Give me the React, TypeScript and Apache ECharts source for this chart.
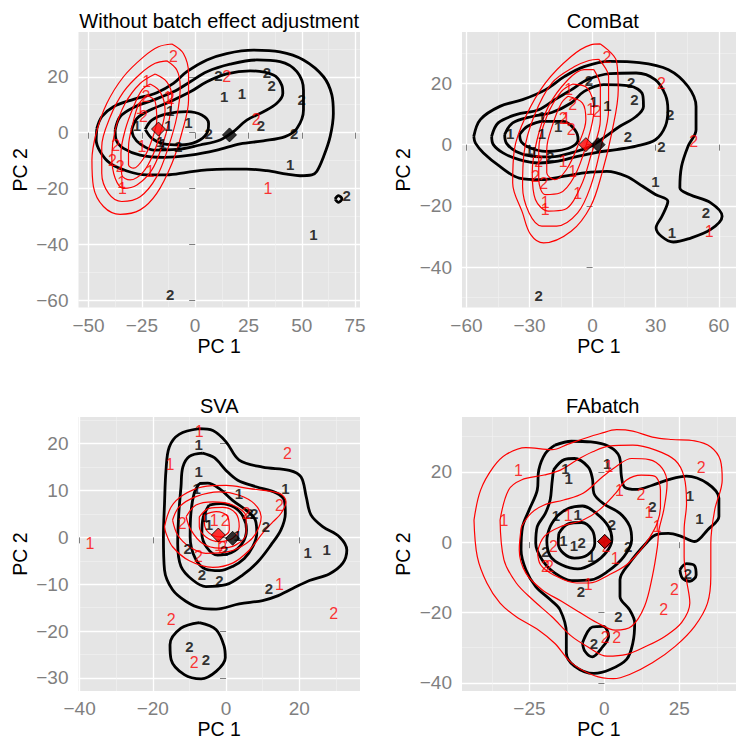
import React, { useEffect, useRef } from "react";
import * as echarts from "echarts";

type P = [number, number, string];
type XY = [number, number];

const FONT = '"Liberation Sans", Arial, Helvetica, sans-serif';

// ---------- Panel 1: Without batch effect adjustment ----------
const p1Black: P[] = [
  [-11.7, -57.7, "2"], [55.5, -36.3, "1"], [71.1, -22.6, "2"], [44.5, -11.2, "1"],
  [46.4, -0.2, "2"], [50.0, 11.9, "2"], [33.6, 21.4, "2"], [35.9, 17.0, "2"],
  [10.9, 20.6, "2"], [13.6, 12.9, "1"], [21.9, 14.0, "1"], [30.8, 2.7, "2"],
  [6.3, -0.2, "2"], [-3.1, 3.6, "1"], [-12.5, 2.4, "1"], [-16.4, -3.2, "1"],
  [-15.2, -3.8, "1"], [-7.8, -5.0, "2"], [-27.3, 2.7, "1"], [-11.7, 8.1, "1"],
];
const p1Red: P[] = [
  [-10.2, 27.1, "2"], [14.8, 20.2, "2"], [28.6, 4.8, "2"], [34.1, -19.9, "1"],
  [-22.7, 18.2, "1"], [-23.1, 12.9, "2"], [-25.8, 8.7, "1"], [-24.2, 5.7, "2"],
  [-12.8, 12.6, "1"], [-11.7, 12.3, "2"], [-37.2, -4.6, "2"], [-38.8, -9.8, "2"],
  [-35.2, -12.1, "2"], [-34.4, -17.9, "1"], [-34.1, -19.9, "1"], [-25.0, -5.0, "1"],
  [-21.1, -13.9, "1"],
];
const p1BlackMean: XY = [16.1, -0.8];
const p1RedMean: XY = [-17.2, 1.3];
const p1BlackContours: XY[][] = [
  [[-46.1, 1.5], [-43.8, 5.7], [-38.3, 9.3], [-28.9, 11.9], [-18.0, 14.3], [-10.2, 17.6], [-3.9, 21.8], [5.5, 26.0], [14.8, 28.3], [27.3, 29.5], [39.8, 28.9], [50.8, 26.0], [60.2, 20.0], [64.1, 13.5], [64.8, 6.9], [63.3, -1.4], [60.2, -8.6], [57.0, -13.9], [54.7, -15.1], [49.2, -15.4], [43.0, -14.8], [33.6, -13.6], [24.2, -13.0], [14.8, -13.0], [5.5, -13.3], [-3.9, -14.2], [-13.3, -15.1], [-22.7, -15.1], [-32.0, -13.7], [-39.8, -11.0], [-44.5, -6.8], [-46.4, -2.6]],
  [[-37.5, 1.0], [-35.2, 5.7], [-28.9, 9.0], [-19.5, 11.7], [-10.2, 14.6], [-2.3, 18.2], [5.5, 21.8], [16.4, 24.5], [28.9, 26.0], [39.8, 25.4], [47.7, 21.8], [50.8, 15.2], [50.8, 8.1], [47.7, 1.5], [42.2, -1.4], [32.0, -2.9], [21.1, -4.0], [10.2, -6.2], [-2.3, -8.0], [-14.8, -8.8], [-25.8, -8.0], [-33.6, -5.6], [-37.0, -2.6]],
  [[-29.7, 1.2], [-27.3, 5.1], [-21.1, 8.1], [-11.7, 11.1], [-2.3, 14.6], [5.5, 18.2], [14.8, 21.0], [25.8, 22.1], [36.7, 20.6], [40.6, 17.0], [41.1, 14.0], [38.3, 10.5], [32.0, 7.5], [24.2, 4.5], [18.0, 0.4], [11.7, -2.6], [2.3, -4.4], [-8.6, -6.0], [-19.5, -6.2], [-25.8, -4.0], [-28.9, -1.4]],
  [[-23.4, 1.2], [-20.3, 4.5], [-13.3, 6.7], [-3.9, 7.5], [3.1, 6.3], [6.3, 3.3], [5.5, -0.2], [0.8, -3.2], [-7.0, -4.4], [-14.8, -4.0], [-20.3, -2.0]],
  [[65.6, -23.7], [67.2, -22.5], [68.8, -23.7], [67.2, -24.9]],
];
const p1RedContours: XY[][] = [
  [[-10.9, 31.7], [-5.5, 28.3], [-3.1, 21.2], [-3.1, 11.7], [-6.3, -0.2], [-10.9, -11.0], [-18.0, -21.7], [-25.8, -27.6], [-35.2, -29.2], [-43.0, -26.4], [-47.7, -19.3], [-48.4, -9.8], [-46.4, -0.2], [-41.4, 10.5], [-33.6, 20.0], [-24.2, 27.1], [-17.2, 30.7]],
  [[-13.3, 25.7], [-8.6, 22.4], [-7.0, 16.4], [-8.6, 5.7], [-12.5, -5.0], [-18.0, -15.7], [-25.8, -22.9], [-34.4, -24.6], [-40.6, -21.7], [-43.8, -14.5], [-43.8, -5.0], [-39.8, 5.7], [-33.6, 14.6], [-25.8, 21.0], [-18.75, 24.8]],
  [[-18.75, 21.0], [-13.3, 18.2], [-10.9, 12.9], [-12.5, 3.3], [-15.6, -5.0], [-20.3, -13.3], [-27.3, -18.7], [-33.6, -19.9], [-37.5, -16.3], [-39.1, -8.6], [-37.5, 1.0], [-32.8, 10.5], [-25.8, 17.6]],
  [[-21.1, 17.4], [-16.4, 14.6], [-14.1, 8.1], [-16.4, -0.2], [-19.5, -7.4], [-24.2, -13.9], [-30.5, -16.9], [-34.4, -15.1], [-34.8, -7.4], [-32.8, 1.0], [-28.9, 9.3], [-25.0, 15.2]],
  [[-22.7, 13.5], [-18.75, 11.1], [-18.0, 4.5], [-20.3, -2.6], [-24.2, -9.2], [-28.9, -12.7], [-31.25, -11.5], [-31.25, -5.0], [-29.2, 3.3], [-26.6, 9.9]],
];
const p1XTicks = [-50, -25, 0, 25, 50, 75];
const p1YTicks = [-60, -40, -20, 0, 20];

// ---------- Panel 2: ComBat ----------
const p2Black: P[] = [
  [-25.6, -49.2, "2"], [37.7, -28.8, "1"], [53.9, -22.3, "2"], [29.9, -12.0, "1"],
  [32.7, -0.5, "2"], [16.8, 2.7, "2"], [36.9, 9.8, "2"], [19.9, 14.9, "2"],
  [18.4, 20.3, "2"], [-1.7, 20.9, "2"], [0.6, 14.1, "1"], [7.1, 12.7, "1"],
  [-24.1, 3.8, "1"], [-39.2, 3.6, "1"], [-24.1, 9.2, "1"], [-30.2, -1.6, "1"],
  [-27.9, -2.2, "1"], [-20.2, -3.8, "2"], [-16.4, 6.0, "1"],
];
const p2Red: P[] = [
  [6.8, 28.6, "2"], [32.7, 20.1, "2"], [48.1, 1.1, "2"], [55.4, -28.3, "1"],
  [-11.3, 17.9, "1"], [-9.4, 13.0, "2"], [-0.9, 11.4, "1"], [2.2, 10.9, "2"],
  [-14.0, 8.7, "2"], [-12.5, 8.7, "1"], [-10.2, 4.9, "2"], [-25.6, -5.4, "2"],
  [-27.2, -10.3, "2"], [-23.3, -12.7, "2"], [-22.5, -19.0, "1"], [-22.5, -21.2, "1"],
  [-14.0, -5.4, "1"], [-9.4, -8.7, "1"], [-7.1, -15.8, "1"],
];
const p2BlackMean: XY = [2.6, 0];
const p2RedMean: XY = [-3.2, 0];
const p2BlackContours: XY[][] = [
  [[-56.5, 2.7], [-53.4, 8.2], [-44.1, 12.5], [-33.3, 14.7], [-22.5, 17.9], [-13.3, 22.3], [-4.0, 25.5], [8.3, 27.2], [22.2, 26.8], [36.1, 24.5], [45.4, 19.0], [49.2, 12.5], [49.2, 4.9], [45.4, -0.5], [42.3, -7.1], [41.5, -14.1], [46.1, -16.3], [56.2, -19.0], [61.6, -23.4], [56.2, -27.7], [45.4, -30.8], [38.4, -31.8], [33.0, -30.1], [30.2, -27.2], [33.0, -23.4], [35.8, -18.5], [29.9, -16.3], [23.8, -13.6], [16.0, -10.3], [6.8, -8.7], [-4.0, -9.2], [-13.3, -10.3], [-24.1, -11.4], [-34.9, -10.9], [-44.1, -7.1], [-51.9, -2.7], [-55.7, 0.5]],
  [[-48.0, 2.7], [-44.9, 7.1], [-36.4, 9.8], [-25.6, 11.4], [-17.9, 14.7], [-10.2, 17.9], [-2.5, 21.2], [8.3, 23.2], [20.7, 23.4], [29.9, 21.2], [34.6, 16.3], [35.8, 11.4], [34.6, 6.0], [29.9, 1.6], [20.7, -0.5], [11.4, -1.6], [2.2, -2.5], [-7.1, -3.8], [-16.4, -5.4], [-25.6, -6.0], [-34.9, -4.9], [-42.6, -2.7], [-47.2, 0]],
  [[-41.8, 3.3], [-38.0, 7.1], [-28.7, 9.2], [-19.4, 10.5], [-10.2, 13.6], [-4.0, 17.4], [5.2, 19.6], [17.6, 19.2], [23.8, 16.3], [24.2, 12.5], [20.7, 9.2], [13.0, 6.0], [5.2, 2.2], [-0.9, -0.5], [-10.2, -2.7], [-19.4, -4.0], [-28.7, -3.8], [-36.4, -2.2], [-41.0, 0.5]],
  [[-34.7, 3.3], [-30.9, 6.0], [-23.1, 7.6], [-13.9, 7.6], [-8.5, 4.9], [-6.9, 1.6], [-9.3, -0.5], [-14.8, -1.8], [-22.5, -2.2], [-29.5, -1.1], [-33.8, 0.8]],
];
const p2RedContours: XY[][] = [
  [[3.7, 32.9], [11.4, 27.2], [12.2, 17.9], [9.1, 3.8], [4.5, -9.2], [-0.9, -20.1], [-10.2, -28.3], [-23.3, -32.1], [-29.5, -29.3], [-33.3, -22.3], [-38.0, -12.5], [-37.2, -1.6], [-31.8, 9.2], [-22.5, 20.1], [-10.2, 28.8], [-0.9, 32.6]],
  [[2.9, 27.9], [7.6, 22.3], [7.6, 11.4], [3.7, -1.6], [-0.9, -13.6], [-7.1, -22.3], [-17.1, -26.6], [-24.1, -26.6], [-30.2, -22.3], [-33.3, -13.6], [-32.6, -2.7], [-27.9, 9.2], [-19.4, 20.1], [-8.6, 25.5], [-1.7, 27.5]],
  [[0.6, 24.5], [3.7, 19.0], [3.7, 8.2], [-0.9, -3.8], [-5.6, -13.6], [-13.3, -21.2], [-21.0, -21.7], [-27.2, -17.9], [-28.7, -9.2], [-26.4, 1.6], [-21.0, 12.5], [-11.7, 21.2], [-4.0, 24.5]],
  [[-9.4, 19.8], [-2.5, 18.5], [0.6, 11.4], [-3.2, -0.5], [-8.6, -10.3], [-15.6, -15.8], [-22.5, -16.3], [-25.6, -11.4], [-25.6, -1.6], [-21.8, 9.2], [-14.8, 17.4]],
  [[-11.7, 15.8], [-4.8, 13.6], [-3.2, 8.2], [-7.1, -0.5], [-12.5, -8.2], [-17.9, -11.4], [-21.8, -9.2], [-21.8, -1.6], [-18.7, 7.1], [-14.8, 13.6]],
];
const p2XTicks = [-60, -30, 0, 30, 60];
const p2YTicks = [-40, -20, 0, 20];

// ---------- Panel 3: SVA ----------
const p3Black: P[] = [
  [-7.5, 19.9, "1"], [-7.5, 14.1, "1"], [-8.0, 10.4, "1"], [3.5, 9.4, "1"],
  [16.2, 10.4, "1"], [22.3, -3.3, "1"], [27.5, -2.6, "1"], [6.4, 5.1, "2"],
  [7.7, 5.1, "2"], [10.9, 2.3, "2"], [-10.5, -2.3, "2"], [-6.6, -8.0, "2"],
  [-1.8, -9.3, "2"], [11.7, -11.0, "2"], [-10.0, -23.3, "2"], [-5.5, -26.1, "2"],
  [-5.6, 4.4, "1"], [-4.7, 2.8, "1"], [3.2, 0.5, "1"], [-0.5, -2.7, "2"],
];
const p3Red: P[] = [
  [-37.2, -1.3, "1"], [-7.3, 22.6, "1"], [-15.3, 15.5, "1"], [16.8, 17.9, "2"],
  [14.6, 6.9, "2"], [5.5, 5.1, "2"], [-12.0, 3.0, "2"], [-3.2, 3.7, "1"],
  [-0.2, 3.5, "2"], [-2.0, -1.8, "1"], [-0.9, -2.1, "2"], [-7.5, -4.1, "2"],
  [14.6, -10.1, "1"], [-15.0, -17.6, "2"], [29.4, -16.2, "2"], [-8.7, -26.8, "2"],
];
const p3BlackMean: XY = [1.8, -0.2];
const p3RedMean: XY = [-2.1, 0.5];
const p3BlackContours: XY[][] = [
  [[-7.3, 23.2], [-12.8, 22.0], [-15.5, 19.3], [-16.4, 14.3], [-16.8, 7.2], [-17.1, 0.1], [-16.8, -7.0], [-14.6, -11.2], [-10.9, -13.7], [-6.8, -15.1], [-2.7, -15.3], [3.6, -14.2], [10.0, -13.5], [13.7, -12.6], [18.2, -10.9], [22.8, -9.2], [28.2, -7.8], [31.9, -5.5], [33.0, -2.7], [31.0, 0.1], [26.4, 2.3], [23.2, 4.8], [21.9, 8.7], [20.5, 12.9], [17.3, 14.3], [10.0, 15.0], [3.6, 16.5], [0, 20.4], [-3.6, 22.8]],
  [[-6.4, 18.0], [-10.0, 17.3], [-11.8, 15.0], [-12.3, 10.8], [-12.9, 5.1], [-13.2, -1.3], [-12.3, -6.2], [-9.1, -9.1], [-5.5, -10.5], [0, -10.1], [4.6, -8.0], [8.7, -5.2], [12.3, -1.6], [15.0, 1.6], [16.2, 5.1], [15.9, 7.9], [13.7, 9.5], [8.2, 10.8], [3.2, 12.2], [0, 14.3], [-3.2, 17.0]],
  [[-7.3, 11.5], [-5.0, 11.6], [-1.8, 10.4], [1.8, 7.9], [5.5, 5.8], [8.0, 3.7], [8.4, 0.9], [7.3, -2.0], [5.0, -4.5], [1.8, -6.2], [-1.8, -7.1], [-5.5, -6.8], [-8.4, -4.5], [-9.8, 0.1], [-9.6, 5.1], [-8.7, 9.4]],
  [[-4.6, 6.9], [-1.4, 7.2], [2.3, 6.4], [4.7, 4.4], [5.6, 1.6], [4.4, -1.3], [1.4, -3.3], [-2.3, -3.8], [-5.3, -2.1], [-6.6, 0.9], [-6.2, 4.4]],
  [[-7.3, -18.2], [-2.7, -19.7], [-0.5, -23.3], [-0.2, -25.7], [-2.7, -28.6], [-6.8, -30.2], [-11.4, -29.3], [-15.0, -26.1], [-15.3, -22.9], [-12.3, -19.4]],
];
const p3RedContours: XY[][] = [
  [[-16.8, 2.3], [-15.0, 6.5], [-11.8, 9.0], [-6.4, 10.8], [0, 11.1], [6.4, 10.4], [14.6, 9.4], [16.4, 7.6], [15.0, 5.1], [12.8, 3.3], [10.0, 0.9], [6.4, -2.7], [1.8, -5.5], [-3.6, -6.4], [-10.0, -5.0], [-14.6, -2.0], [-16.4, 0.9]],
  [[-14.6, 3.7], [-12.8, 6.5], [-8.2, 8.7], [-1.8, 9.7], [3.6, 9.0], [7.7, 7.2], [9.6, 4.4], [8.2, 0.9], [5.5, -1.3], [0.9, -3.0], [-5.5, -3.4], [-10.0, -2.0], [-13.2, 0.5]],
  [[-10.9, 4.4], [-8.2, 6.9], [-3.6, 7.6], [1.8, 6.9], [5.5, 4.4], [5.5, 0.9], [2.7, -1.6], [-1.8, -2.3], [-6.4, -1.3], [-9.6, 1.6]],
  [[-7.3, 4.4], [-4.6, 6.2], [-0.9, 6.4], [2.7, 5.1], [3.6, 2.3], [1.8, -0.2], [-1.8, -0.9], [-5.5, 0.1], [-7.3, 2.3]],
  [[-5.9, 4.8], [-2.7, 5.5], [0.5, 4.4], [0.9, 1.6], [-1.4, 0.1], [-4.6, 0.9], [-5.9, 3.0]],
];
const p3XTicks = [-40, -20, 0, 20];
const p3YTicks = [-30, -20, -10, 0, 10, 20];

// ---------- Panel 4: FAbatch ----------
const p4Black: P[] = [
  [-13.0, 21.0, "1"], [-11.9, 18.1, "1"], [0.9, 22.4, "1"], [28.5, 13.4, "1"],
  [31.7, 6.8, "1"], [16.0, 10.1, "2"], [2.5, 4.9, "2"], [7.9, -1.2, "2"],
  [-13.7, 0.5, "1"], [-10.2, -0.8, "1"], [-7.6, -0.1, "2"], [-16.2, 7.7, "1"],
  [-8.9, 8.0, "1"], [-4.3, -4.1, "1"], [-19.7, -2.6, "2"], [-7.8, -14.0, "2"],
  [4.7, -21.2, "2"], [-3.5, -28.8, "2"], [27.9, -8.8, "2"],
];
const p4Red: P[] = [
  [-28.7, 20.5, "1"], [-33.5, 6.1, "1"], [32.3, 21.2, "2"], [1.5, 21.5, "1"],
  [5.0, 14.6, "1"], [12.2, 13.7, "2"], [14.9, 8.4, "1"], [17.6, 4.4, "1"],
  [-12.1, 7.7, "1"], [-17.0, -1.2, "2"], [-19.7, -6.9, "2"], [-18.3, -6.9, "2"],
  [3.6, -4.5, "1"], [0.6, -1.2, "2"], [-5.4, -12.1, "1"], [23.4, -13.5, "2"],
  [19.8, -19.0, "2"], [0.3, -27.2, "2"], [4.1, -27.0, "2"],
];
const p4BlackMean: XY = [0.1, 0.2];
const p4RedMean: XY = [0.1, 0.2];
const p4BlackContours: XY[][] = [
  [[-16.5, 27.6], [-11.0, 28.7], [-4.5, 28.5], [1.4, 27.3], [5.0, 24.3], [5.7, 18.6], [6.8, 15.6], [10.6, 15.0], [16.0, 16.2], [21.4, 17.8], [27.4, 18.8], [34.4, 16.7], [38.2, 12.5], [38.2, 7.3], [34.4, 3.5], [30.1, 0.2], [25.8, 1.6], [21.4, 2.5], [17.1, 2.1], [13.9, -0.3], [8.4, -5.9], [5.2, -10.7], [5.2, -15.4], [8.4, -19.2], [10.1, -22.9], [9.5, -28.6], [7.4, -33.3], [1.9, -36.2], [-3.5, -37.3], [-10.0, -35.2], [-12.7, -31.4], [-12.7, -25.8], [-14.8, -19.2], [-18.1, -16.3], [-22.9, -12.6], [-26.2, -7.8], [-27.8, -2.2], [-27.3, 4.4], [-25.1, 9.2], [-22.4, 14.8], [-21.9, 20.5], [-19.7, 25.2]],
  [[-17.0, 20.5], [-13.4, 23.5], [-10.0, 23.8], [-5.4, 21.4], [-4.0, 18.1], [-3.5, 13.9], [-0.2, 10.9], [5.2, 8.2], [8.4, 4.6], [9.1, 0.7], [6.5, -4.1], [1.1, -8.3], [-4.5, -10.7], [-11.0, -10.9], [-16.5, -8.8], [-20.8, -5.0], [-22.9, -0.3], [-22.4, 4.4], [-19.7, 8.2], [-18.1, 12.0], [-17.5, 16.7]],
  [[-15.9, 7.3], [-12.1, 9.6], [-7.3, 10.3], [-2.4, 8.0], [1.4, 4.4], [2.5, 0.8], [0.6, -2.9], [-3.5, -5.9], [-8.9, -7.6], [-14.3, -6.4], [-18.1, -3.9], [-19.2, 0.5], [-18.1, 4.4]],
  [[-15.2, 2.5], [-12.1, 5.2], [-7.6, 5.6], [-4.0, 3.3], [-3.2, -0.3], [-5.6, -3.6], [-10.0, -4.5], [-13.7, -3.1], [-15.4, -0.3]],
  [[25.2, -7.8], [27.4, -6.1], [30.1, -6.7], [30.6, -9.3], [28.5, -11.1], [26.0, -10.2]],
  [[-7.3, -28.6], [-4.0, -24.1], [-0.4, -23.9], [1.4, -26.7], [-1.1, -30.3], [-4.0, -32.6], [-6.5, -31.0]],
];
const p4RedContours: XY[][] = [
  [[-43.5, 6.3], [-41.3, 14.8], [-37.0, 21.4], [-32.7, 25.0], [-26.2, 26.9], [-17.5, 26.3], [-12.1, 27.9], [-6.7, 29.5], [-1.3, 30.9], [4.1, 32.0], [9.5, 31.6], [16.0, 29.9], [22.5, 29.2], [30.1, 28.8], [35.5, 27.1], [38.7, 23.3], [39.3, 17.7], [36.8, 9.2], [35.5, -0.3], [35.5, -9.7], [34.4, -17.3], [30.1, -23.9], [23.6, -29.6], [16.0, -34.3], [8.4, -37.6], [3.0, -38.8], [-3.5, -37.9], [-11.0, -34.3], [-16.5, -28.8], [-21.9, -25.0], [-29.4, -21.2], [-34.8, -17.3], [-39.2, -11.6], [-42.4, -4.1]],
  [[-34.8, 6.3], [-32.0, 14.8], [-27.7, 17.7], [-20.1, 19.1], [-14.7, 20.5], [-9.3, 23.3], [-3.9, 25.7], [1.5, 27.3], [9.5, 27.6], [17.1, 26.2], [23.6, 23.3], [26.6, 18.6], [27.4, 11.0], [26.6, 3.5], [26.6, -4.1], [27.4, -10.7], [28.5, -17.3], [25.8, -22.8], [20.3, -26.7], [13.9, -29.6], [7.4, -31.9], [0.9, -32.4], [-5.6, -29.7], [-11.0, -26.7], [-17.5, -21.2], [-24.0, -16.3], [-29.4, -11.6], [-33.5, -5.0]],
  [[-27.7, 4.4], [-24.5, 8.2], [-20.1, 10.6], [-13.6, 12.0], [-7.1, 13.9], [-0.6, 18.6], [3.7, 21.4], [9.1, 23.8], [14.9, 23.5], [19.3, 21.0], [20.9, 16.7], [19.8, 9.2], [18.2, 3.5], [17.7, -1.2], [16.0, -9.7], [13.4, -18.2], [9.1, -23.9], [3.7, -25.0], [-2.4, -22.9], [-8.9, -19.6], [-14.3, -16.8], [-20.8, -13.5], [-26.2, -8.8], [-28.4, -2.2]],
  [[-22.3, -2.6], [-20.1, 1.6], [-14.7, 4.4], [-7.1, 6.3], [-1.7, 9.2], [3.7, 13.9], [7.4, 17.7], [12.3, 19.1], [16.7, 18.8], [18.7, 14.8], [18.7, 10.1], [17.6, 5.4], [14.9, 1.1], [11.7, -2.6], [7.4, -6.4], [1.5, -9.3], [-5.0, -11.6], [-9.3, -11.6], [-16.9, -9.3], [-21.3, -6.4]],
];
const p4XTicks = [-25, 0, 25];
const p4YTicks = [-40, -20, 0, 20];

const titles = ["Without batch effect adjustment", "ComBat", "SVA", "FAbatch"];

const panels = [
  { title: titles[0], grid: { left: 78.5, top: 32, width: 281.5, height: 275.5 }, xr: [-54.7, 77.3], yr: [-62.5, 36.0], xt: p1XTicks, yt: p1YTicks, black: p1Black, red: p1Red, bc: p1BlackContours, rc: p1RedContours, bm: p1BlackMean, rm: p1RedMean },
  { title: titles[1], grid: { left: 462, top: 32, width: 281.5, height: 275.5 }, xr: [-62.1, 68.2], yr: [-53.2, 36.8], xt: p2XTicks, yt: p2YTicks, black: p2Black, red: p2Red, bc: p2BlackContours, rc: p2RedContours, bm: p2BlackMean, rm: p2RedMean },
  { title: titles[2], grid: { left: 78.5, top: 417, width: 281.5, height: 275 }, xr: [-40.3, 36.6], yr: [-32.8, 25.7], xt: p3XTicks, yt: p3YTicks, black: p3Black, red: p3Red, bc: p3BlackContours, rc: p3RedContours, bm: p3BlackMean, rm: p3RedMean },
  { title: titles[3], grid: { left: 462, top: 417, width: 281.5, height: 275 }, xr: [-47.5, 43.9], yr: [-42.3, 35.6], xt: p4XTicks, yt: p4YTicks, black: p4Black, red: p4Red, bc: p4BlackContours, rc: p4RedContours, bm: p4BlackMean, rm: p4RedMean },
];

const fmt = (v: number) => (v < 0 ? "\u2212" + Math.abs(v) : String(v));

function axis(i: number, range: number[], ticks: number[], name: string, isY: boolean) {
  const step = ticks[1] - ticks[0];
  return {
    type: "value",
    gridIndex: i,
    min: range[0],
    max: range[1],
    minInterval: step,
    maxInterval: step,
    name,
    nameLocation: "middle",
    nameGap: isY ? 49 : 28,
    nameTextStyle: { color: "#000", fontSize: 19.5, fontFamily: FONT },
    axisLine: { show: false },
    axisTick: { show: true, length: 6, customValues: ticks, lineStyle: { color: "#7F7F7F", width: 1 } },
    axisLabel: { show: true, customValues: ticks, color: "#7F7F7F", fontSize: 19, fontFamily: FONT, margin: isY ? 10 : 8, formatter: fmt },
    splitLine: { show: true, lineStyle: { color: "#FFFFFF", width: 1.3 } },
    minorTick: { show: false, splitNumber: 2 },
    minorSplitLine: { show: true, lineStyle: { color: "#F2F2F2", width: 0.6 } },
  };
}

export default function App() {
  const ref = useRef<HTMLDivElement>(null);
  useEffect(() => {
    if (!ref.current) return;
    const chart = echarts.init(ref.current, null, { renderer: "svg" });
    const series: any[] = [];
    panels.forEach((p, i) => {
      p.bc.forEach((ring) =>
        series.push({ type: "line", xAxisIndex: i, yAxisIndex: i, data: [...ring, ring[0]], symbol: "none", smooth: 0.35, silent: true, z: 2, lineStyle: { color: "#000", width: 2.8 } })
      );
      p.rc.forEach((ring) =>
        series.push({ type: "line", xAxisIndex: i, yAxisIndex: i, data: [...ring, ring[0]], symbol: "none", smooth: 0.35, silent: true, z: 3, lineStyle: { color: "#FF0000", width: 1.2 } })
      );
      series.push({
        type: "scatter", xAxisIndex: i, yAxisIndex: i, data: p.black, symbolSize: 1, silent: true, z: 4,
        itemStyle: { color: "rgba(0,0,0,0)" },
        label: { show: true, position: "inside", formatter: (d: any) => d.data[2], color: "#000", fontWeight: "bold", fontSize: 15, fontFamily: FONT },
      });
      series.push({
        type: "scatter", xAxisIndex: i, yAxisIndex: i, data: p.red, symbolSize: 1, silent: true, z: 5,
        itemStyle: { color: "rgba(0,0,0,0)" },
        label: { show: true, position: "inside", formatter: (d: any) => d.data[2], color: "#FF0000", fontSize: 16, fontFamily: FONT },
      });
      series.push({ type: "scatter", xAxisIndex: i, yAxisIndex: i, data: [p.bm], symbol: "diamond", symbolSize: 14, silent: true, z: 6, itemStyle: { color: "#000", borderColor: "#000", borderWidth: 1 } });
      series.push({ type: "scatter", xAxisIndex: i, yAxisIndex: i, data: [p.rm], symbol: "diamond", symbolSize: 14, silent: true, z: 7, itemStyle: { color: "#FF0000", borderColor: "#000", borderWidth: 1 } });
    });
    const option: any = {
      animation: false,
      backgroundColor: "#FFFFFF",
      textStyle: { fontFamily: FONT },
      grid: panels.map((p) => ({ ...p.grid, show: true, backgroundColor: "#E5E5E5", borderWidth: 0 })),
      xAxis: panels.map((p, i) => axis(i, p.xr, p.xt, "PC 1", false)),
      yAxis: panels.map((p, i) => axis(i, p.yr, p.yt, "PC 2", true)),
      graphic: panels.map((p) => ({
        type: "text",
        x: p.grid.left + p.grid.width / 2,
        y: p.grid.top - 11.5,
        style: { text: p.title, fill: "#000", fontSize: 20, fontFamily: FONT, align: "center", verticalAlign: "middle" },
      })),
      series,
    };
    chart.setOption(option);
    return () => chart.dispose();
  }, []);
  return <div ref={ref} style={{ position: "absolute", left: 0, top: 0, width: 736, height: 740 }} />;
}
